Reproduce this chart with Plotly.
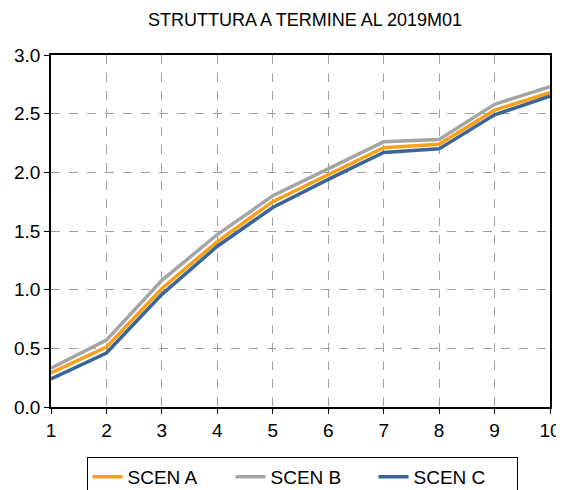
import plotly.graph_objects as go

maturities = [1, 2, 3, 4, 5, 6, 7, 8, 9, 10]
scen_a = [0.29, 0.51, 1.01, 1.41, 1.75, 1.98, 2.21, 2.24, 2.53, 2.68]
scen_b = [0.33, 0.57, 1.08, 1.47, 1.80, 2.03, 2.26, 2.28, 2.58, 2.73]
scen_c = [0.24, 0.46, 0.96, 1.37, 1.70, 1.94, 2.17, 2.20, 2.49, 2.65]
y_ticks = [0.0, 0.5, 1.0, 1.5, 2.0, 2.5, 3.0]

# page body has an 8px margin, so the figure is 8px smaller and margins shifted
W, H, OFF = 556, 482, 8

fig = go.Figure()
fig.add_trace(go.Scatter(x=maturities, y=scen_b, mode="lines", name="SCEN B",
                         line=dict(color="#A5A5A5", width=3.5), legendrank=2))
fig.add_trace(go.Scatter(x=maturities, y=scen_a, mode="lines", name="SCEN A",
                         line=dict(color="#F7A11A", width=3.5), legendrank=1))
fig.add_trace(go.Scatter(x=maturities, y=scen_c, mode="lines", name="SCEN C",
                         line=dict(color="#3A6599", width=3.5), legendrank=3))

axis_common = dict(showline=True, linecolor="black", linewidth=1.5, mirror=True,
                   ticks="outside", ticklen=5, tickcolor="black", showgrid=True,
                   gridcolor="#A0A0A0", griddash="dash", gridwidth=1, zeroline=False,
                   tickfont=dict(size=19), automargin=False)

fig.update_layout(
    width=W, height=H,
    margin=dict(l=51 - OFF, r=14, t=55 - OFF, b=83),
    paper_bgcolor="white", plot_bgcolor="white",
    font=dict(family="Liberation Sans, Arial, sans-serif", size=19, color="black"),
    title=dict(text="STRUTTURA A TERMINE AL 2019M01", xref="container",
               x=(305 - OFF) / W, xanchor="center",
               yref="container", y=1 - (20 - OFF) / H, yanchor="middle",
               font=dict(size=18, color="black")),
    xaxis=dict(range=[1, 10], tickvals=maturities, **axis_common),
    yaxis=dict(range=[0, 3], tickvals=y_ticks, tickformat=".1f", **axis_common),
    legend=dict(orientation="h", xref="container", x=(302 - OFF) / W, xanchor="center",
                yref="container", y=1 - (457 - OFF) / H, yanchor="top",
                bordercolor="black", borderwidth=1, bgcolor="white",
                font=dict(size=19), traceorder="normal", entrywidth=98),
    showlegend=True,
)

fig.write_html("out.html")
